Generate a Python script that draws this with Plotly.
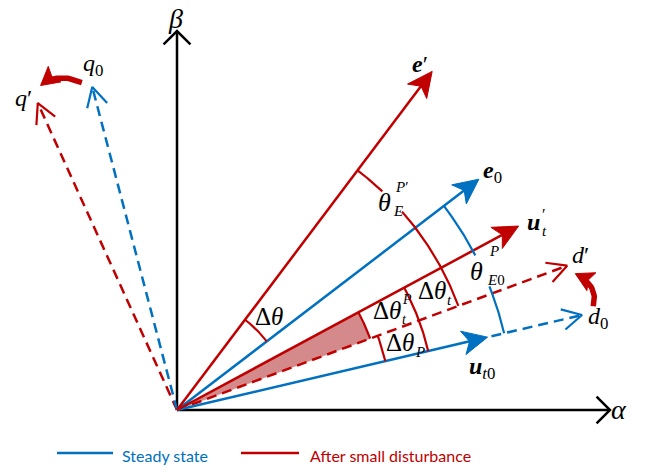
import numpy as np
import plotly.graph_objects as go

BLUE = "#0070C0"
RED = "#C00000"
WEDGE = "#D48A8A"
SERIF = "Liberation Serif"

# ---- vector data (angle from the alpha axis in degrees, length) ----
steady_names = ["e0", "ut0", "d0", "q0"]
steady_angle = [37.4, 13.2, 13.2, 104.7]
steady_len = [380, 319, 416, 334]

after_names = ["e'", "ut'", "d'", "q'"]
after_angle = [53.0, 28.3, 20.3, 114.4]
after_len = [424, 388, 416, 337]

# reference frame
axis_names = ["alpha", "beta"]
axis_angle = [0.0, 90.0]
axis_len = [433, 379]

# angle arcs: (start angle, end angle, radius)
arc_dtheta = (37.4, 53.0, 113)
arc_thetaE1 = (20.3, 53.0, 300)
arc_thetaE1_gap = (41.4, 46.8)
arc_thetaE0 = (13.2, 37.4, 336)
arc_thetaE0_gap = (21.6, 27.4)
arc_dtheta_t = (13.2, 28.3, 258)
arc_dtheta_P = (13.2, 20.3, 214)
arc_dtheta_tP = (20.3, 28.3, 206)

# rotation arrows d0 -> d' and q0 -> q' : (start angle, start r, end angle, end r)
rot_d = (14.0, 429, 18.9, 421)
rot_q = (106.2, 341, 112.8, 352)

legend_labels = ["Steady state", "After small disturbance"]


def pol(ang, r):
    a = np.radians(ang)
    return r * np.cos(a), r * np.sin(a)


def unit(ang):
    a = np.radians(ang)
    return np.cos(a), np.sin(a)


fig = go.Figure()


def line(xs, ys, color, width=2.5, dash=None, fill=None, fillcolor=None):
    fig.add_trace(go.Scatter(
        x=list(xs), y=list(ys), mode="lines",
        line=dict(color=color, width=width, dash=dash),
        fill=fill, fillcolor=fillcolor,
        hoverinfo="skip", showlegend=False))


def solid_head(tx, ty, ang, color, L=25, W=12, notch=0.74):
    ux, uy = unit(ang)
    nx, ny = -uy, ux
    bx, by = tx - L * ux, ty - L * uy
    mx, my = tx - notch * L * ux, ty - notch * L * uy
    xs = [tx, bx + W * nx, mx, bx - W * nx, tx]
    ys = [ty, by + W * ny, my, by - W * ny, ty]
    fig.add_trace(go.Scatter(x=xs, y=ys, mode="lines", fill="toself",
                             fillcolor=color, line=dict(color=color, width=1),
                             hoverinfo="skip", showlegend=False))


def open_head(tx, ty, ang, color, arm=22, half=28, width=2.2):
    a1x, a1y = unit(ang + 180 - half)
    a2x, a2y = unit(ang + 180 + half)
    line([tx + arm * a1x, tx, tx + arm * a2x],
         [ty + arm * a1y, ty, ty + arm * a2y], color, width)


def solid_vector(ang, r, color):
    tx, ty = pol(ang, r)
    ex, ey = pol(ang, r - 15)
    line([0, ex], [0, ey], color, 2.5)
    solid_head(tx, ty, ang, color)


def dashed_vector(ang, r, color, r0=0):
    sx, sy = pol(ang, r0)
    tx, ty = pol(ang, r)
    line([sx, tx], [sy, ty], color, 2.5, dash="10px,6px")
    open_head(tx, ty, ang, color)


def arc(a0, a1, r, color, width=2.2, n=60):
    t = np.linspace(a0, a1, n)
    xs, ys = pol(t, r)
    line(xs, ys, color, width)


# shaded wedge between u't and d'
wa0, wa1, wr = arc_dtheta_tP
t = np.linspace(wa0, wa1, 40)
wx, wy = pol(t, wr)
line(np.concatenate([[0], wx, [0]]), np.concatenate([[0], wy, [0]]),
     WEDGE, 0.5, fill="toself", fillcolor=WEDGE)
arc(wa0, wa1, wr, RED)

# coordinate axes
for ang, L in zip(axis_angle, axis_len):
    tx, ty = pol(ang, L)
    line([0, tx], [0, ty], "black", 2.5)
    open_head(tx, ty, ang, "black", arm=19, half=45, width=2.5)

# dashed d/q axes
dashed_vector(after_angle[3], after_len[3], RED)
dashed_vector(steady_angle[3], steady_len[3], BLUE)
dashed_vector(after_angle[2], after_len[2], RED)
dashed_vector(steady_angle[2], steady_len[2], BLUE, r0=steady_len[1] + 4)

# solid vectors
for i in (0, 1):
    solid_vector(steady_angle[i], steady_len[i], BLUE)
    solid_vector(after_angle[i], after_len[i], RED)

# angle arcs
arc(*arc_dtheta, RED)
a0, a1, r = arc_thetaE1
arc(a0, arc_thetaE1_gap[0], r, RED)
arc(arc_thetaE1_gap[1], a1, r, RED)
a0, a1, r = arc_thetaE0
arc(a0, arc_thetaE0_gap[0], r, BLUE)
arc(arc_thetaE0_gap[1], a1, r, BLUE)
arc(*arc_dtheta_t, RED)
arc(*arc_dtheta_P, RED)


# curved rotation arrows
def rotation_arrow(a0, r0, a1, r1, bulge=1.035):
    sx, sy = pol(a0, r0)
    ex, ey = pol(a1, r1)
    cx, cy = pol((a0 + a1) / 2, (r0 + r1) / 2 * bulge)
    s = np.linspace(0, 1, 30)
    bx = (1 - s) ** 2 * sx + 2 * s * (1 - s) * cx + s ** 2 * ex
    by = (1 - s) ** 2 * sy + 2 * s * (1 - s) * cy + s ** 2 * ey
    ang = np.degrees(np.arctan2(ey - cy, ex - cx))
    keep = s < 0.75
    line(bx[keep], by[keep], RED, 5.5)
    solid_head(ex, ey, ang, RED, L=18, W=10, notch=0.8)


rotation_arrow(*rot_d)
rotation_arrow(*rot_q)


# ---- text ----
def label(x, y, text, size=24, xanchor="center", color="black", family=SERIF):
    fig.add_annotation(x=x, y=y, text=text, showarrow=False, xanchor=xanchor,
                       yanchor="middle", font=dict(family=family, size=size, color=color))


label(-2, 392, "<i>β</i>", 28)
label(442, 1, "<i>α</i>", 28)
label(243, 346, "<b><i>e</i></b>′", 24)
label(315, 238, "<b><i>e</i></b><sub>0</sub>", 24)
label(348, 188, "<b><i>u</i></b>", 24, "left")
label(363, 196, "′", 16, "left")
label(363, 179, "<i>t</i>", 15, "left")
label(305, 42, "<b><i>u</i></b><sub><i>t</i>0</sub>", 24)
label(403, 155, "<i>d</i>′", 24)
label(421, 92, "<i>d</i><sub>0</sub>", 24)
label(-84, 345, "<i>q</i><sub>0</sub>", 24)
label(-154, 312, "<i>q</i>′", 24)
label(92, 94, "Δ<i>θ</i>", 25)
label(207, 208, "<i>θ</i>", 26)
label(216, 223, "<i>P</i>′", 15, "left")
label(214, 199, "<i>E</i>", 15, "left")
label(299, 139, "<i>θ</i>", 26)
label(310, 159, "<i>P</i>", 15, "left")
label(308, 130, "<i>E</i>0", 15, "left")
label(255, 120, "Δ<i>θ</i>", 25)
label(268, 110, "<i>t</i>", 15, "left")
label(210, 100, "Δ<i>θ</i>", 25)
label(223, 111, "<i>P</i>", 14, "left")
label(223, 91, "<i>t</i>", 14, "left")
label(223, 68, "Δ<i>θ</i>", 25)
label(236, 58, "<i>P</i>", 15, "left")

# legend
line([-120, -64], [-43, -43], BLUE, 2.5)
line([64, 122], [-43, -43], RED, 2.5)
label(-57, -45, legend_labels[0], 16, "left", BLUE, "Lato")
label(131, -45, legend_labels[1], 16, "left", RED, "Lato")

fig.update_layout(
    width=649, height=470,
    margin=dict(l=0, r=0, t=0, b=0),
    paper_bgcolor="white", plot_bgcolor="white",
    xaxis=dict(range=[-177, 472], visible=False, fixedrange=True),
    yaxis=dict(range=[-60, 410], visible=False, fixedrange=True),
    showlegend=False,
)

fig.write_html("out.html")
